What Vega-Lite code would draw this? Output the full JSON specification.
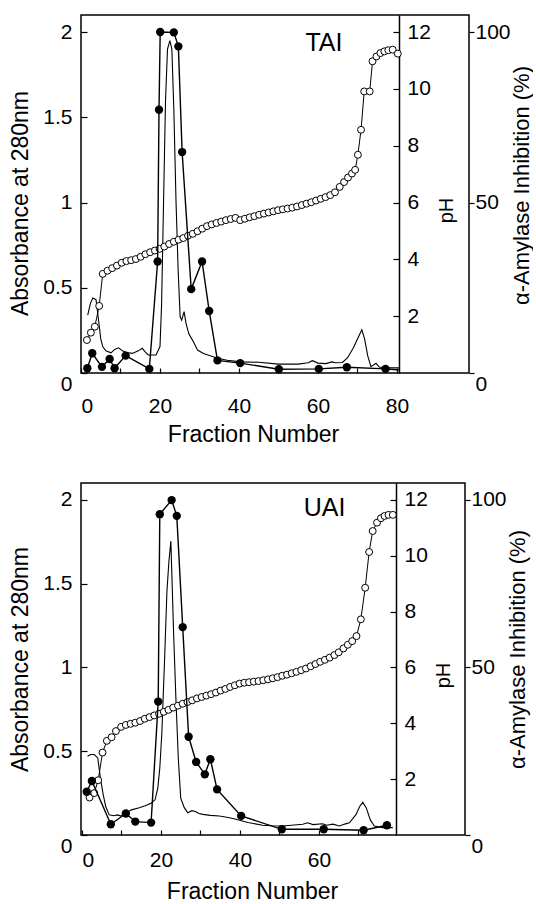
{
  "$schema": "https://vega.github.io/schema/vega-lite/v6.json",
  "padding": {"left": 9, "top": 14, "right": 0, "bottom": 0},
  "spacing": 35,
  "config": {
    "font": "Liberation Sans",
    "view": {"stroke": "black", "strokeWidth": 1.5},
    "axis": {
      "grid": false,
      "labelFont": "Liberation Sans",
      "labelFontSize": 21,
      "labelColor": "black",
      "titleFont": "Liberation Sans",
      "titleFontSize": 23,
      "titleFontWeight": "normal",
      "titleColor": "black",
      "tickColor": "black",
      "tickWidth": 1.2,
      "domainColor": "black",
      "domainWidth": 1.5
    }
  },
  "datasets": {
    "T_abs": [
      {"fraction": 1.7, "absorbance": 0.34}, {"fraction": 2.4, "absorbance": 0.41}, {"fraction": 3.0, "absorbance": 0.44},
      {"fraction": 3.8, "absorbance": 0.43}, {"fraction": 4.4, "absorbance": 0.32}, {"fraction": 5.0, "absorbance": 0.2},
      {"fraction": 5.5, "absorbance": 0.155}, {"fraction": 6.3, "absorbance": 0.13}, {"fraction": 7.6, "absorbance": 0.118},
      {"fraction": 8.6, "absorbance": 0.14}, {"fraction": 9.5, "absorbance": 0.148}, {"fraction": 10.5, "absorbance": 0.13},
      {"fraction": 11.5, "absorbance": 0.12}, {"fraction": 13.0, "absorbance": 0.115}, {"fraction": 14.5, "absorbance": 0.13},
      {"fraction": 15.5, "absorbance": 0.145}, {"fraction": 16.2, "absorbance": 0.125}, {"fraction": 17.0, "absorbance": 0.106},
      {"fraction": 19.0, "absorbance": 0.106}, {"fraction": 20.0, "absorbance": 0.155}, {"fraction": 20.4, "absorbance": 0.4},
      {"fraction": 20.9, "absorbance": 1.0}, {"fraction": 21.4, "absorbance": 1.6}, {"fraction": 21.9, "absorbance": 1.9},
      {"fraction": 22.5, "absorbance": 1.95}, {"fraction": 23.0, "absorbance": 1.9}, {"fraction": 23.5, "absorbance": 1.55},
      {"fraction": 24.05, "absorbance": 1.01}, {"fraction": 24.6, "absorbance": 0.6}, {"fraction": 25.1, "absorbance": 0.33},
      {"fraction": 25.5, "absorbance": 0.31}, {"fraction": 26.1, "absorbance": 0.36}, {"fraction": 26.6, "absorbance": 0.29},
      {"fraction": 27.3, "absorbance": 0.23}, {"fraction": 28.3, "absorbance": 0.19}, {"fraction": 29.5, "absorbance": 0.135},
      {"fraction": 31.0, "absorbance": 0.115}, {"fraction": 32.5, "absorbance": 0.103}, {"fraction": 34.6, "absorbance": 0.086},
      {"fraction": 37.0, "absorbance": 0.075}, {"fraction": 40.5, "absorbance": 0.065}, {"fraction": 45.0, "absorbance": 0.063},
      {"fraction": 50.0, "absorbance": 0.052}, {"fraction": 55.0, "absorbance": 0.052}, {"fraction": 57.5, "absorbance": 0.06},
      {"fraction": 58.6, "absorbance": 0.072}, {"fraction": 60.0, "absorbance": 0.058}, {"fraction": 62.0, "absorbance": 0.055},
      {"fraction": 63.5, "absorbance": 0.065}, {"fraction": 64.5, "absorbance": 0.06}, {"fraction": 66.2, "absorbance": 0.062},
      {"fraction": 67.5, "absorbance": 0.09}, {"fraction": 69.0, "absorbance": 0.15}, {"fraction": 70.2, "absorbance": 0.21},
      {"fraction": 71.1, "absorbance": 0.253}, {"fraction": 71.8, "absorbance": 0.2}, {"fraction": 72.6, "absorbance": 0.1},
      {"fraction": 73.4, "absorbance": 0.037}, {"fraction": 74.7, "absorbance": 0.057}, {"fraction": 75.5, "absorbance": 0.035},
      {"fraction": 77.0, "absorbance": 0.03}, {"fraction": 80.5, "absorbance": 0.03}
    ],
    "T_inh": [
      {"fraction": 1.6, "inhibition": 1.4}, {"fraction": 2.85, "inhibition": 5.8}, {"fraction": 5.3, "inhibition": 1.8},
      {"fraction": 7.25, "inhibition": 4.1}, {"fraction": 8.5, "inhibition": 1.4}, {"fraction": 11.3, "inhibition": 5.1},
      {"fraction": 17.3, "inhibition": 1.2}, {"fraction": 19.4, "inhibition": 32.7}, {"fraction": 19.75, "inhibition": 77.2},
      {"fraction": 20.05, "inhibition": 100}, {"fraction": 23.5, "inhibition": 99.9}, {"fraction": 24.65, "inhibition": 95.8},
      {"fraction": 25.6, "inhibition": 64.8}, {"fraction": 27.9, "inhibition": 24.6}, {"fraction": 30.65, "inhibition": 32.7},
      {"fraction": 32.45, "inhibition": 18.2}, {"fraction": 34.55, "inhibition": 3.7}, {"fraction": 40.3, "inhibition": 2.9},
      {"fraction": 50.1, "inhibition": 1.1}, {"fraction": 60.2, "inhibition": 1.2}, {"fraction": 67.3, "inhibition": 1.7},
      {"fraction": 77.1, "inhibition": 1.2}, {"fraction": 80.5, "inhibition": 0.9}
    ],
    "T_pH": [
      {"fraction": 1.5, "pH": 1.16}, {"fraction": 2.5, "pH": 1.42}, {"fraction": 3.5, "pH": 1.63}, {"fraction": 4.6, "pH": 2.36},
      {"fraction": 5.5, "pH": 3.49}, {"fraction": 6.7, "pH": 3.6}, {"fraction": 7.9, "pH": 3.69}, {"fraction": 9.1, "pH": 3.78},
      {"fraction": 10.3, "pH": 3.88}, {"fraction": 11.5, "pH": 3.94}, {"fraction": 12.7, "pH": 3.97}, {"fraction": 13.9, "pH": 4.01},
      {"fraction": 15.1, "pH": 4.09}, {"fraction": 16.3, "pH": 4.18}, {"fraction": 17.5, "pH": 4.25}, {"fraction": 18.7, "pH": 4.31},
      {"fraction": 19.9, "pH": 4.37}, {"fraction": 21.1, "pH": 4.45}, {"fraction": 22.3, "pH": 4.54}, {"fraction": 23.5, "pH": 4.62},
      {"fraction": 24.7, "pH": 4.69}, {"fraction": 25.9, "pH": 4.75}, {"fraction": 27.1, "pH": 4.83}, {"fraction": 28.3, "pH": 4.9},
      {"fraction": 29.5, "pH": 4.99}, {"fraction": 30.7, "pH": 5.08}, {"fraction": 31.9, "pH": 5.17}, {"fraction": 33.1, "pH": 5.23},
      {"fraction": 34.3, "pH": 5.28}, {"fraction": 35.5, "pH": 5.33}, {"fraction": 36.7, "pH": 5.38}, {"fraction": 37.9, "pH": 5.42},
      {"fraction": 39.1, "pH": 5.46}, {"fraction": 40.3, "pH": 5.38}, {"fraction": 41.5, "pH": 5.43}, {"fraction": 42.7, "pH": 5.48},
      {"fraction": 43.9, "pH": 5.52}, {"fraction": 45.1, "pH": 5.57}, {"fraction": 46.3, "pH": 5.61}, {"fraction": 47.5, "pH": 5.65},
      {"fraction": 48.7, "pH": 5.69}, {"fraction": 49.9, "pH": 5.73}, {"fraction": 51.1, "pH": 5.76}, {"fraction": 52.3, "pH": 5.79},
      {"fraction": 53.5, "pH": 5.82}, {"fraction": 54.7, "pH": 5.86}, {"fraction": 55.9, "pH": 5.91}, {"fraction": 57.1, "pH": 5.96},
      {"fraction": 58.3, "pH": 6.01}, {"fraction": 59.5, "pH": 6.07}, {"fraction": 60.7, "pH": 6.13}, {"fraction": 61.9, "pH": 6.19},
      {"fraction": 63.1, "pH": 6.26}, {"fraction": 64.3, "pH": 6.36}, {"fraction": 65.5, "pH": 6.55}, {"fraction": 66.6, "pH": 6.72},
      {"fraction": 67.6, "pH": 6.88}, {"fraction": 68.6, "pH": 7.02}, {"fraction": 69.4, "pH": 7.15}, {"fraction": 70.1, "pH": 7.68},
      {"fraction": 70.9, "pH": 8.56}, {"fraction": 71.7, "pH": 9.91}, {"fraction": 73.1, "pH": 9.91}, {"fraction": 73.8, "pH": 10.97},
      {"fraction": 74.8, "pH": 11.14}, {"fraction": 75.8, "pH": 11.26}, {"fraction": 76.8, "pH": 11.32}, {"fraction": 77.8, "pH": 11.36},
      {"fraction": 78.9, "pH": 11.38}, {"fraction": 80.2, "pH": 11.24}
    ],
    "U_abs": [
      {"fraction": 1.4, "absorbance": 0.47}, {"fraction": 2.2, "absorbance": 0.48}, {"fraction": 3.1, "absorbance": 0.48},
      {"fraction": 4.0, "absorbance": 0.46}, {"fraction": 4.6, "absorbance": 0.35}, {"fraction": 5.3, "absorbance": 0.25},
      {"fraction": 6.0, "absorbance": 0.17}, {"fraction": 6.9, "absorbance": 0.12}, {"fraction": 8.0, "absorbance": 0.115},
      {"fraction": 9.0, "absorbance": 0.12}, {"fraction": 9.9, "absorbance": 0.113}, {"fraction": 11.0, "absorbance": 0.13},
      {"fraction": 12.5, "absorbance": 0.15}, {"fraction": 14.5, "absorbance": 0.163}, {"fraction": 16.0, "absorbance": 0.175},
      {"fraction": 17.5, "absorbance": 0.19}, {"fraction": 18.5, "absorbance": 0.21}, {"fraction": 19.2, "absorbance": 0.28},
      {"fraction": 19.7, "absorbance": 0.4}, {"fraction": 20.2, "absorbance": 0.6}, {"fraction": 20.9, "absorbance": 1.04},
      {"fraction": 21.5, "absorbance": 1.45}, {"fraction": 22.0, "absorbance": 1.63}, {"fraction": 22.5, "absorbance": 1.754},
      {"fraction": 23.2, "absorbance": 1.2}, {"fraction": 23.8, "absorbance": 0.8}, {"fraction": 24.4, "absorbance": 0.45},
      {"fraction": 25.0, "absorbance": 0.22}, {"fraction": 25.9, "absorbance": 0.163}, {"fraction": 26.8, "absorbance": 0.133},
      {"fraction": 27.8, "absorbance": 0.145}, {"fraction": 28.7, "absorbance": 0.14}, {"fraction": 29.6, "absorbance": 0.128},
      {"fraction": 30.6, "absorbance": 0.123}, {"fraction": 32.5, "absorbance": 0.117}, {"fraction": 34.8, "absorbance": 0.113},
      {"fraction": 37.0, "absorbance": 0.104}, {"fraction": 39.0, "absorbance": 0.094}, {"fraction": 42.0, "absorbance": 0.075},
      {"fraction": 45.7, "absorbance": 0.058}, {"fraction": 48.0, "absorbance": 0.055}, {"fraction": 50.8, "absorbance": 0.054},
      {"fraction": 53.0, "absorbance": 0.058}, {"fraction": 55.9, "absorbance": 0.064}, {"fraction": 57.1, "absorbance": 0.073},
      {"fraction": 58.5, "absorbance": 0.062}, {"fraction": 60.9, "absorbance": 0.067}, {"fraction": 62.0, "absorbance": 0.058},
      {"fraction": 63.5, "absorbance": 0.065}, {"fraction": 65.2, "absorbance": 0.054}, {"fraction": 66.5, "absorbance": 0.065},
      {"fraction": 67.7, "absorbance": 0.073}, {"fraction": 69.4, "absorbance": 0.123}, {"fraction": 70.3, "absorbance": 0.17},
      {"fraction": 71.1, "absorbance": 0.195}, {"fraction": 72.0, "absorbance": 0.16}, {"fraction": 73.0, "absorbance": 0.09},
      {"fraction": 74.0, "absorbance": 0.054}, {"fraction": 76.1, "absorbance": 0.044}, {"fraction": 78.7, "absorbance": 0.044}
    ],
    "U_inh": [
      {"fraction": 1.2, "inhibition": 12.9}, {"fraction": 2.5, "inhibition": 16.1}, {"fraction": 7.3, "inhibition": 3.2},
      {"fraction": 11.1, "inhibition": 6.4}, {"fraction": 13.5, "inhibition": 4.0}, {"fraction": 17.5, "inhibition": 3.7},
      {"fraction": 19.3, "inhibition": 39.8}, {"fraction": 19.7, "inhibition": 95.7}, {"fraction": 22.7, "inhibition": 99.9},
      {"fraction": 24.0, "inhibition": 95.2}, {"fraction": 25.5, "inhibition": 62}, {"fraction": 27.0, "inhibition": 29.3},
      {"fraction": 28.9, "inhibition": 21.8}, {"fraction": 31.1, "inhibition": 18.1}, {"fraction": 32.5, "inhibition": 22.6},
      {"fraction": 34.2, "inhibition": 13.6}, {"fraction": 40.3, "inhibition": 5.7}, {"fraction": 50.6, "inhibition": 1.7},
      {"fraction": 61.2, "inhibition": 1.7}, {"fraction": 71.3, "inhibition": 1.4}, {"fraction": 77.2, "inhibition": 2.9}
    ],
    "U_pH": [
      {"fraction": 1.9, "pH": 1.34}, {"fraction": 3.1, "pH": 1.5}, {"fraction": 4.1, "pH": 1.96}, {"fraction": 5.2, "pH": 2.95},
      {"fraction": 6.3, "pH": 3.37}, {"fraction": 7.5, "pH": 3.5}, {"fraction": 8.6, "pH": 3.72}, {"fraction": 9.9, "pH": 3.87},
      {"fraction": 11.1, "pH": 3.94}, {"fraction": 12.3, "pH": 3.98}, {"fraction": 13.5, "pH": 4.02}, {"fraction": 14.7, "pH": 4.08},
      {"fraction": 15.9, "pH": 4.16}, {"fraction": 17.1, "pH": 4.22}, {"fraction": 18.3, "pH": 4.28}, {"fraction": 19.5, "pH": 4.34},
      {"fraction": 20.7, "pH": 4.41}, {"fraction": 21.9, "pH": 4.48}, {"fraction": 23.1, "pH": 4.56}, {"fraction": 24.3, "pH": 4.63},
      {"fraction": 25.5, "pH": 4.7}, {"fraction": 26.7, "pH": 4.76}, {"fraction": 27.9, "pH": 4.82}, {"fraction": 29.1, "pH": 4.89},
      {"fraction": 30.3, "pH": 4.94}, {"fraction": 31.5, "pH": 4.99}, {"fraction": 32.7, "pH": 5.04}, {"fraction": 33.9, "pH": 5.1},
      {"fraction": 35.1, "pH": 5.17}, {"fraction": 36.3, "pH": 5.23}, {"fraction": 37.5, "pH": 5.3}, {"fraction": 38.7, "pH": 5.36},
      {"fraction": 39.9, "pH": 5.42}, {"fraction": 41.1, "pH": 5.45}, {"fraction": 42.3, "pH": 5.47}, {"fraction": 43.5, "pH": 5.49},
      {"fraction": 44.7, "pH": 5.51}, {"fraction": 45.9, "pH": 5.54}, {"fraction": 47.1, "pH": 5.57}, {"fraction": 48.3, "pH": 5.61},
      {"fraction": 49.5, "pH": 5.65}, {"fraction": 50.7, "pH": 5.7}, {"fraction": 51.9, "pH": 5.74}, {"fraction": 53.1, "pH": 5.79},
      {"fraction": 54.3, "pH": 5.84}, {"fraction": 55.5, "pH": 5.9}, {"fraction": 56.7, "pH": 5.96}, {"fraction": 57.9, "pH": 6.04},
      {"fraction": 59.1, "pH": 6.12}, {"fraction": 60.3, "pH": 6.2}, {"fraction": 61.5, "pH": 6.27}, {"fraction": 62.7, "pH": 6.35},
      {"fraction": 63.9, "pH": 6.44}, {"fraction": 65.0, "pH": 6.54}, {"fraction": 66.2, "pH": 6.68}, {"fraction": 67.3, "pH": 6.81},
      {"fraction": 68.4, "pH": 6.94}, {"fraction": 69.5, "pH": 7.12}, {"fraction": 70.6, "pH": 7.72}, {"fraction": 71.7, "pH": 8.85},
      {"fraction": 72.7, "pH": 10.13}, {"fraction": 73.6, "pH": 10.88}, {"fraction": 74.7, "pH": 11.18}, {"fraction": 75.7, "pH": 11.34},
      {"fraction": 76.6, "pH": 11.42}, {"fraction": 77.6, "pH": 11.46}, {"fraction": 78.7, "pH": 11.46}
    ]
  },
  "vconcat": [
    {
      "width": 388,
      "height": 358,
      "resolve": {"scale": {"y": "independent"}, "axis": {"y": "independent"}},
      "encoding": {
        "x": {
          "field": "fraction", "type": "quantitative",
          "scale": {"domain": [0, 98.23], "nice": false, "zero": false},
          "axis": {
            "values": [0, 10, 20, 30, 40, 50, 60, 70, 80],
            "labelExpr": "datum.value % 20 === 0 ? datum.label : ''",
            "tickSize": -5, "labelPadding": 27, "domain": false,
            "title": "Fraction Number", "titleX": 172, "titlePadding": 7
          }
        }
      },
      "layer": [
        {
          "data": {"name": "T_abs"},
          "mark": {"type": "line", "color": "black", "strokeWidth": 1.1},
          "encoding": {
            "y": {
              "field": "absorbance", "type": "quantitative",
              "scale": {"domain": [0, 2.1], "nice": false},
              "axis": {
                "orient": "left", "values": [0, 0.5, 1, 1.5, 2], "format": "~g",
                "tickSize": -6, "labelPadding": 15, "domain": false,
                "title": "Absorbance at 280nm", "titlePadding": 10, "titleY": 188,
                "labelBaseline": {"condition": {"test": "datum.value === 0", "value": "top"}, "value": "middle"}
              }
            }
          }
        },
        {
          "data": {"name": "T_pH"},
          "encoding": {
            "y": {
              "field": "pH", "type": "quantitative",
              "scale": {"domain": [0, 12.6], "nice": false},
              "axis": {
                "orient": "right", "offset": -70, "values": [2, 4, 6, 8, 10, 12],
                "tickSize": -6, "labelPadding": 14, "domain": true,
                "title": "pH", "titleFontSize": 20, "titleAngle": 270, "titleBaseline": "top",
                "titlePadding": 6, "titleY": 195
              }
            }
          },
          "layer": [
            {"mark": {"type": "line", "color": "black", "strokeWidth": 1}, "encoding": {}},
            {"mark": {"type": "circle", "fill": "white", "stroke": "black", "strokeWidth": 1, "size": 48, "opacity": 1}, "encoding": {}}
          ]
        },
        {
          "data": {"name": "T_inh"},
          "encoding": {
            "y": {
              "field": "inhibition", "type": "quantitative",
              "scale": {"domain": [0, 105], "nice": false},
              "axis": {
                "orient": "right", "values": [0, 50, 100],
                "tickSize": 5, "labelPadding": 1, "domain": false,
                "title": "α-Amylase Inhibition (%)", "titleFontSize": 22, "titleAngle": 270, "titleBaseline": "top",
                "titlePadding": 1, "titleY": 170,
                "labelBaseline": {"condition": {"test": "datum.value === 0", "value": "top"}, "value": "middle"}
              }
            }
          },
          "layer": [
            {"mark": {"type": "line", "color": "black", "strokeWidth": 1.4}, "encoding": {}},
            {"transform": [{"filter": "datum.fraction < 80"}], "mark": {"type": "circle", "color": "black", "size": 70, "opacity": 1}, "encoding": {}}
          ]
        },
        {
          "data": {"values": [{"label": "TAI", "fraction": 61.5, "absorbance": 1.937}]},
          "mark": {"type": "text", "fontSize": 25, "font": "Liberation Sans", "align": "center", "baseline": "middle", "color": "black"},
          "encoding": {
            "y": {"field": "absorbance", "type": "quantitative", "scale": {"domain": [0, 2.1], "nice": false}, "axis": null},
            "text": {"field": "label"}
          }
        }
      ]
    },
    {
      "width": 384,
      "height": 352,
      "resolve": {"scale": {"y": "independent"}, "axis": {"y": "independent"}},
      "encoding": {
        "x": {
          "field": "fraction", "type": "quantitative",
          "scale": {"domain": [-0.25, 96.97], "nice": false, "zero": false},
          "axis": {
            "values": [0, 10, 20, 30, 40, 50, 60, 70],
            "labelExpr": "datum.value % 20 === 0 ? datum.label : ''",
            "tickSize": -5, "labelPadding": 19, "domain": false, "labelFlush": 2,
            "title": "Fraction Number", "titleX": 171, "titlePadding": 10
          }
        }
      },
      "layer": [
        {
          "data": {"name": "U_abs"},
          "mark": {"type": "line", "color": "black", "strokeWidth": 1.1},
          "encoding": {
            "y": {
              "field": "absorbance", "type": "quantitative",
              "scale": {"domain": [0, 2.1], "nice": false},
              "axis": {
                "orient": "left", "values": [0, 0.5, 1, 1.5, 2], "format": "~g",
                "tickSize": -6, "labelPadding": 15, "domain": false,
                "title": "Absorbance at 280nm", "titlePadding": 10,
                "labelBaseline": {"condition": {"test": "datum.value === 0", "value": "top"}, "value": "middle"}
              }
            }
          }
        },
        {
          "data": {"name": "U_pH"},
          "encoding": {
            "y": {
              "field": "pH", "type": "quantitative",
              "scale": {"domain": [0, 12.6], "nice": false},
              "axis": {
                "orient": "right", "offset": -69, "values": [2, 4, 6, 8, 10, 12],
                "tickSize": -6, "labelPadding": 14, "domain": true,
                "title": "pH", "titleFontSize": 20, "titleAngle": 270, "titleBaseline": "top",
                "titlePadding": 6, "titleY": 192
              }
            }
          },
          "layer": [
            {"mark": {"type": "line", "color": "black", "strokeWidth": 1}, "encoding": {}},
            {"mark": {"type": "circle", "fill": "white", "stroke": "black", "strokeWidth": 1, "size": 48, "opacity": 1}, "encoding": {}}
          ]
        },
        {
          "data": {"name": "U_inh"},
          "encoding": {
            "y": {
              "field": "inhibition", "type": "quantitative",
              "scale": {"domain": [0, 105], "nice": false},
              "axis": {
                "orient": "right", "values": [0, 50, 100],
                "tickSize": 5, "labelPadding": 1, "domain": false,
                "title": "α-Amylase Inhibition (%)", "titleFontSize": 22, "titleAngle": 270, "titleBaseline": "top",
                "titlePadding": 1, "titleY": 166,
                "labelBaseline": {"condition": {"test": "datum.value === 0", "value": "top"}, "value": "middle"}
              }
            }
          },
          "layer": [
            {"mark": {"type": "line", "color": "black", "strokeWidth": 1.4}, "encoding": {}},
            {"mark": {"type": "circle", "color": "black", "size": 70, "opacity": 1}, "encoding": {}}
          ]
        },
        {
          "data": {"values": [{"label": "UAI", "fraction": 61.4, "absorbance": 1.948}]},
          "mark": {"type": "text", "fontSize": 25, "font": "Liberation Sans", "align": "center", "baseline": "middle", "color": "black"},
          "encoding": {
            "y": {"field": "absorbance", "type": "quantitative", "scale": {"domain": [0, 2.1], "nice": false}, "axis": null},
            "text": {"field": "label"}
          }
        }
      ]
    }
  ]
}
